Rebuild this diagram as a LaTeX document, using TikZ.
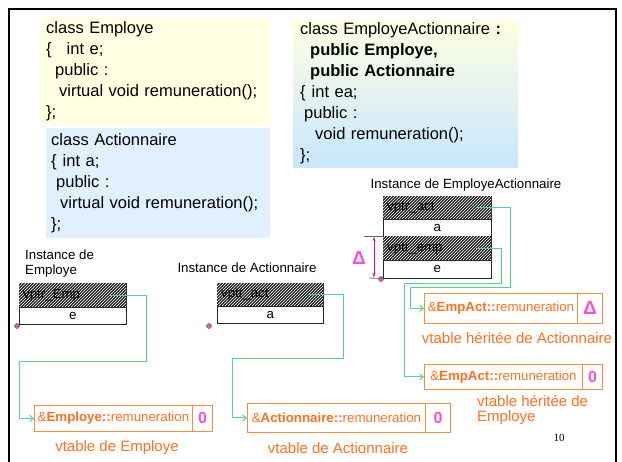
\documentclass[tikz,border=0pt]{standalone}
\usepackage{fontspec}
\setmainfont{Liberation Sans}
\newfontfamily\serifnum{Liberation Serif}
\usepackage{tikz}
\usetikzlibrary{patterns,arrows.meta}

\definecolor{codeyellow}{RGB}{255,255,225}
\definecolor{codeblue}{RGB}{224,240,255}
\definecolor{codeblueb}{RGB}{200,230,255}
\definecolor{vtorange}{RGB}{255,112,32}
\definecolor{vtline}{RGB}{255,140,60}
\definecolor{deltapink}{RGB}{255,80,200}
\definecolor{ptrgreen}{RGB}{80,215,140}
\definecolor{dotpink}{RGB}{230,90,190}

\newcommand{\codefont}{\fontsize{16.5}{21}\selectfont}
\newcommand{\smallfont}{\fontsize{13.3}{15}\selectfont}
\newcommand{\labelfont}{\fontsize{15}{15.5}\selectfont}

\begin{document}
\begin{tikzpicture}[x=1pt, y=-1pt,
    codebox/.style={anchor=north west, align=left, inner ysep=2pt, font=\codefont},
    hatchcell/.style={draw=black!85, fill=black!86, postaction={pattern=north east lines, pattern color=white},
        anchor=north west, inner xsep=4pt, inner ysep=0pt, align=left, font=\smallfont, text=black},
    fieldcell/.style={draw=black!85, fill=white, anchor=north west, inner sep=0pt, font=\smallfont},
    vtcell/.style={draw=vtline, line width=0.9pt, anchor=north west, inner sep=0pt, font=\smallfont, text=vtorange},
    vtval/.style={draw=vtline, line width=0.9pt, anchor=north west, inner sep=0pt, font=\fontsize{16}{16}\selectfont\bfseries, text=deltapink},
    vtlabel/.style={font=\labelfont, text=vtorange},
    ptr/.style={draw=ptrgreen, line width=1pt, -{Straight Barb[length=3.5pt,width=6pt]}},
    dotmark/.style={circle, fill=dotpink, draw=black!70, line width=0.4pt, inner sep=0pt, minimum size=5pt}]

    \useasboundingbox (0,0) rectangle (622,462);
    % frame
    \draw[line width=2.6pt] (9,470) -- (9,9) -- (616,9) -- (616,470);

    % class declarations
    \node[codebox, fill=codeyellow, text width=218pt, inner xsep=6pt, minimum height=107pt] (clsEmp) at (40,18)
        {class Employe\\
         \{\hspace*{15pt}int e;\\
         \hspace*{9pt}public :\\
         \hspace*{13pt}virtual void remuneration();\\
         \};};
    \node[codebox, fill=codeblue, text width=214pt, inner xsep=5pt, minimum height=110pt] (clsAct) at (46,128)
        {class Actionnaire\\
         \{\hspace*{6pt}int a;\\
         \hspace*{5pt}public :\\
         \hspace*{9pt}virtual void remuneration();\\
         \};};
    \node[codebox, top color=codeyellow, bottom color=codeblueb, text width=211pt, inner xsep=7pt,
        minimum height=147pt] (clsEA) at (293,20)
        {class EmployeActionnaire \textbf{:}\\
         \hspace*{10pt}\textbf{public Employe,}\\
         \hspace*{10pt}\textbf{public Actionnaire}\\
         \{\hspace*{6pt}int ea;\\
         \hspace*{4pt}public :\\
         \hspace*{15pt}void remuneration();\\
         \};};

    % instance de Employe
    \node[anchor=north west, align=left, font=\smallfont, inner sep=0pt] (lblEmp) at (25,250) {Instance de\\Employe};
    \node[hatchcell, text width=99pt, minimum height=24pt] (vpEmp) at (19,283) {vptr\_Emp};
    \node[fieldcell, minimum width=107pt, minimum height=17pt] (fldE) at (19,307) {e};
    \node[dotmark] (oEmp) at (17,326) {};

    % instance de Actionnaire
    \node[font=\smallfont] (lblAct) at (247,268) {Instance de Actionnaire};
    \node[hatchcell, text width=98pt, minimum height=23pt] (vpAct) at (217,283) {vptr\_act};
    \node[fieldcell, minimum width=106pt, minimum height=17pt] (fldA) at (217,306) {a};
    \node[dotmark] (oAct) at (209,326) {};

    % instance de EmployeActionnaire
    \node[font=\smallfont] (lblEA) at (466,185) {Instance de EmployeActionnaire};
    \node[hatchcell, text width=100pt, minimum height=23pt] (vpEAact) at (383,196) {vptr\_act};
    \node[fieldcell, minimum width=108pt, minimum height=17pt] (fldEAa) at (383,219) {a};
    \node[hatchcell, text width=100pt, minimum height=24pt] (vpEAemp) at (383,236) {vptr\_emp};
    \node[fieldcell, minimum width=108pt, minimum height=18pt] (fldEAe) at (383,260) {e};
    \node[dotmark] (oEA) at (381,279) {};

    % delta
    \coordinate (dTop) at (364,236);
    \coordinate (dBot) at (369,278);
    \draw[black!60, line width=0.8pt] (dTop) -- (vpEAemp.north west);
    \draw[black!60, line width=0.8pt] (dBot) -- (fldEAe.south west);
    \draw[magenta, line width=1pt, {Stealth[length=4pt]}-{Stealth[length=4pt]}] (374,237) -- (374,277);
    \node[text=deltapink, font=\fontsize{19}{19}\selectfont\bfseries] (delta) at (359,258) {Δ};

    % vtables
    \node[vtcell, minimum width=158pt, minimum height=26pt] (vtEmp) at (34,405) {\&\textbf{Employe::}remuneration};
    \node[vtval, minimum width=20pt, minimum height=26pt] (vtEmp0) at (192,405) {0};
    \node[vtcell, minimum width=178pt, minimum height=29pt] (vtAct) at (247,403) {\&\textbf{Actionnaire::}remuneration};
    \node[vtval, minimum width=25pt, minimum height=29pt] (vtAct0) at (425,403) {0};
    \node[vtcell, minimum width=153pt, minimum height=30pt] (vtEAa) at (424,293) {\&\textbf{EmpAct::}remuneration};
    \node[vtval, minimum width=25pt, minimum height=30pt, font=\fontsize{19}{19}\selectfont\bfseries] (vtEAaD) at (577,293) {Δ};
    \node[vtcell, minimum width=158pt, minimum height=25pt] (vtEAe) at (424,364) {\&\textbf{EmpAct::}remuneration};
    \node[vtval, minimum width=20pt, minimum height=25pt] (vtEAe0) at (582,364) {0};

    \node[vtlabel] (lblvtE) at (117,448) {vtable de Employe};
    \node[vtlabel] (lblvtA) at (338,448) {vtable de Actionnaire};
    \node[vtlabel] (lblvtEAa) at (517,338) {vtable héritée de Actionnaire};
    \node[vtlabel, anchor=north west, align=left, inner sep=0pt] (lblvtEAe) at (477,395) {vtable héritée de\\Employe};

    \node[font=\serifnum\fontsize{11}{11}\selectfont] (pagenum) at (559,438) {10};

    % pointers to vtables
    \draw[ptr] ([xshift=-16pt]vpEmp.east) -- ++(36,0) -- ++(0,66) -| ([xshift=-15pt]vtEmp.west) -- (vtEmp.west);
    \draw[ptr] ([xshift=-15pt]vpAct.east) -- ++(35,0) -- ++(0,64) -| ([xshift=-15pt]vtAct.west) -- (vtAct.west);
    \draw[ptr] ([xshift=-15pt]vpEAact.east) -- ++(34,0) -- ++(0,80) -| ([xshift=-14pt]vtEAa.west) -- (vtEAa.west);
    \draw[ptr] ([xshift=-15pt]vpEAemp.east) -- ++(25,0) -- ++(0,35) -| ([xshift=-20pt]vtEAe.west) -- (vtEAe.west);
\end{tikzpicture}
\end{document}
